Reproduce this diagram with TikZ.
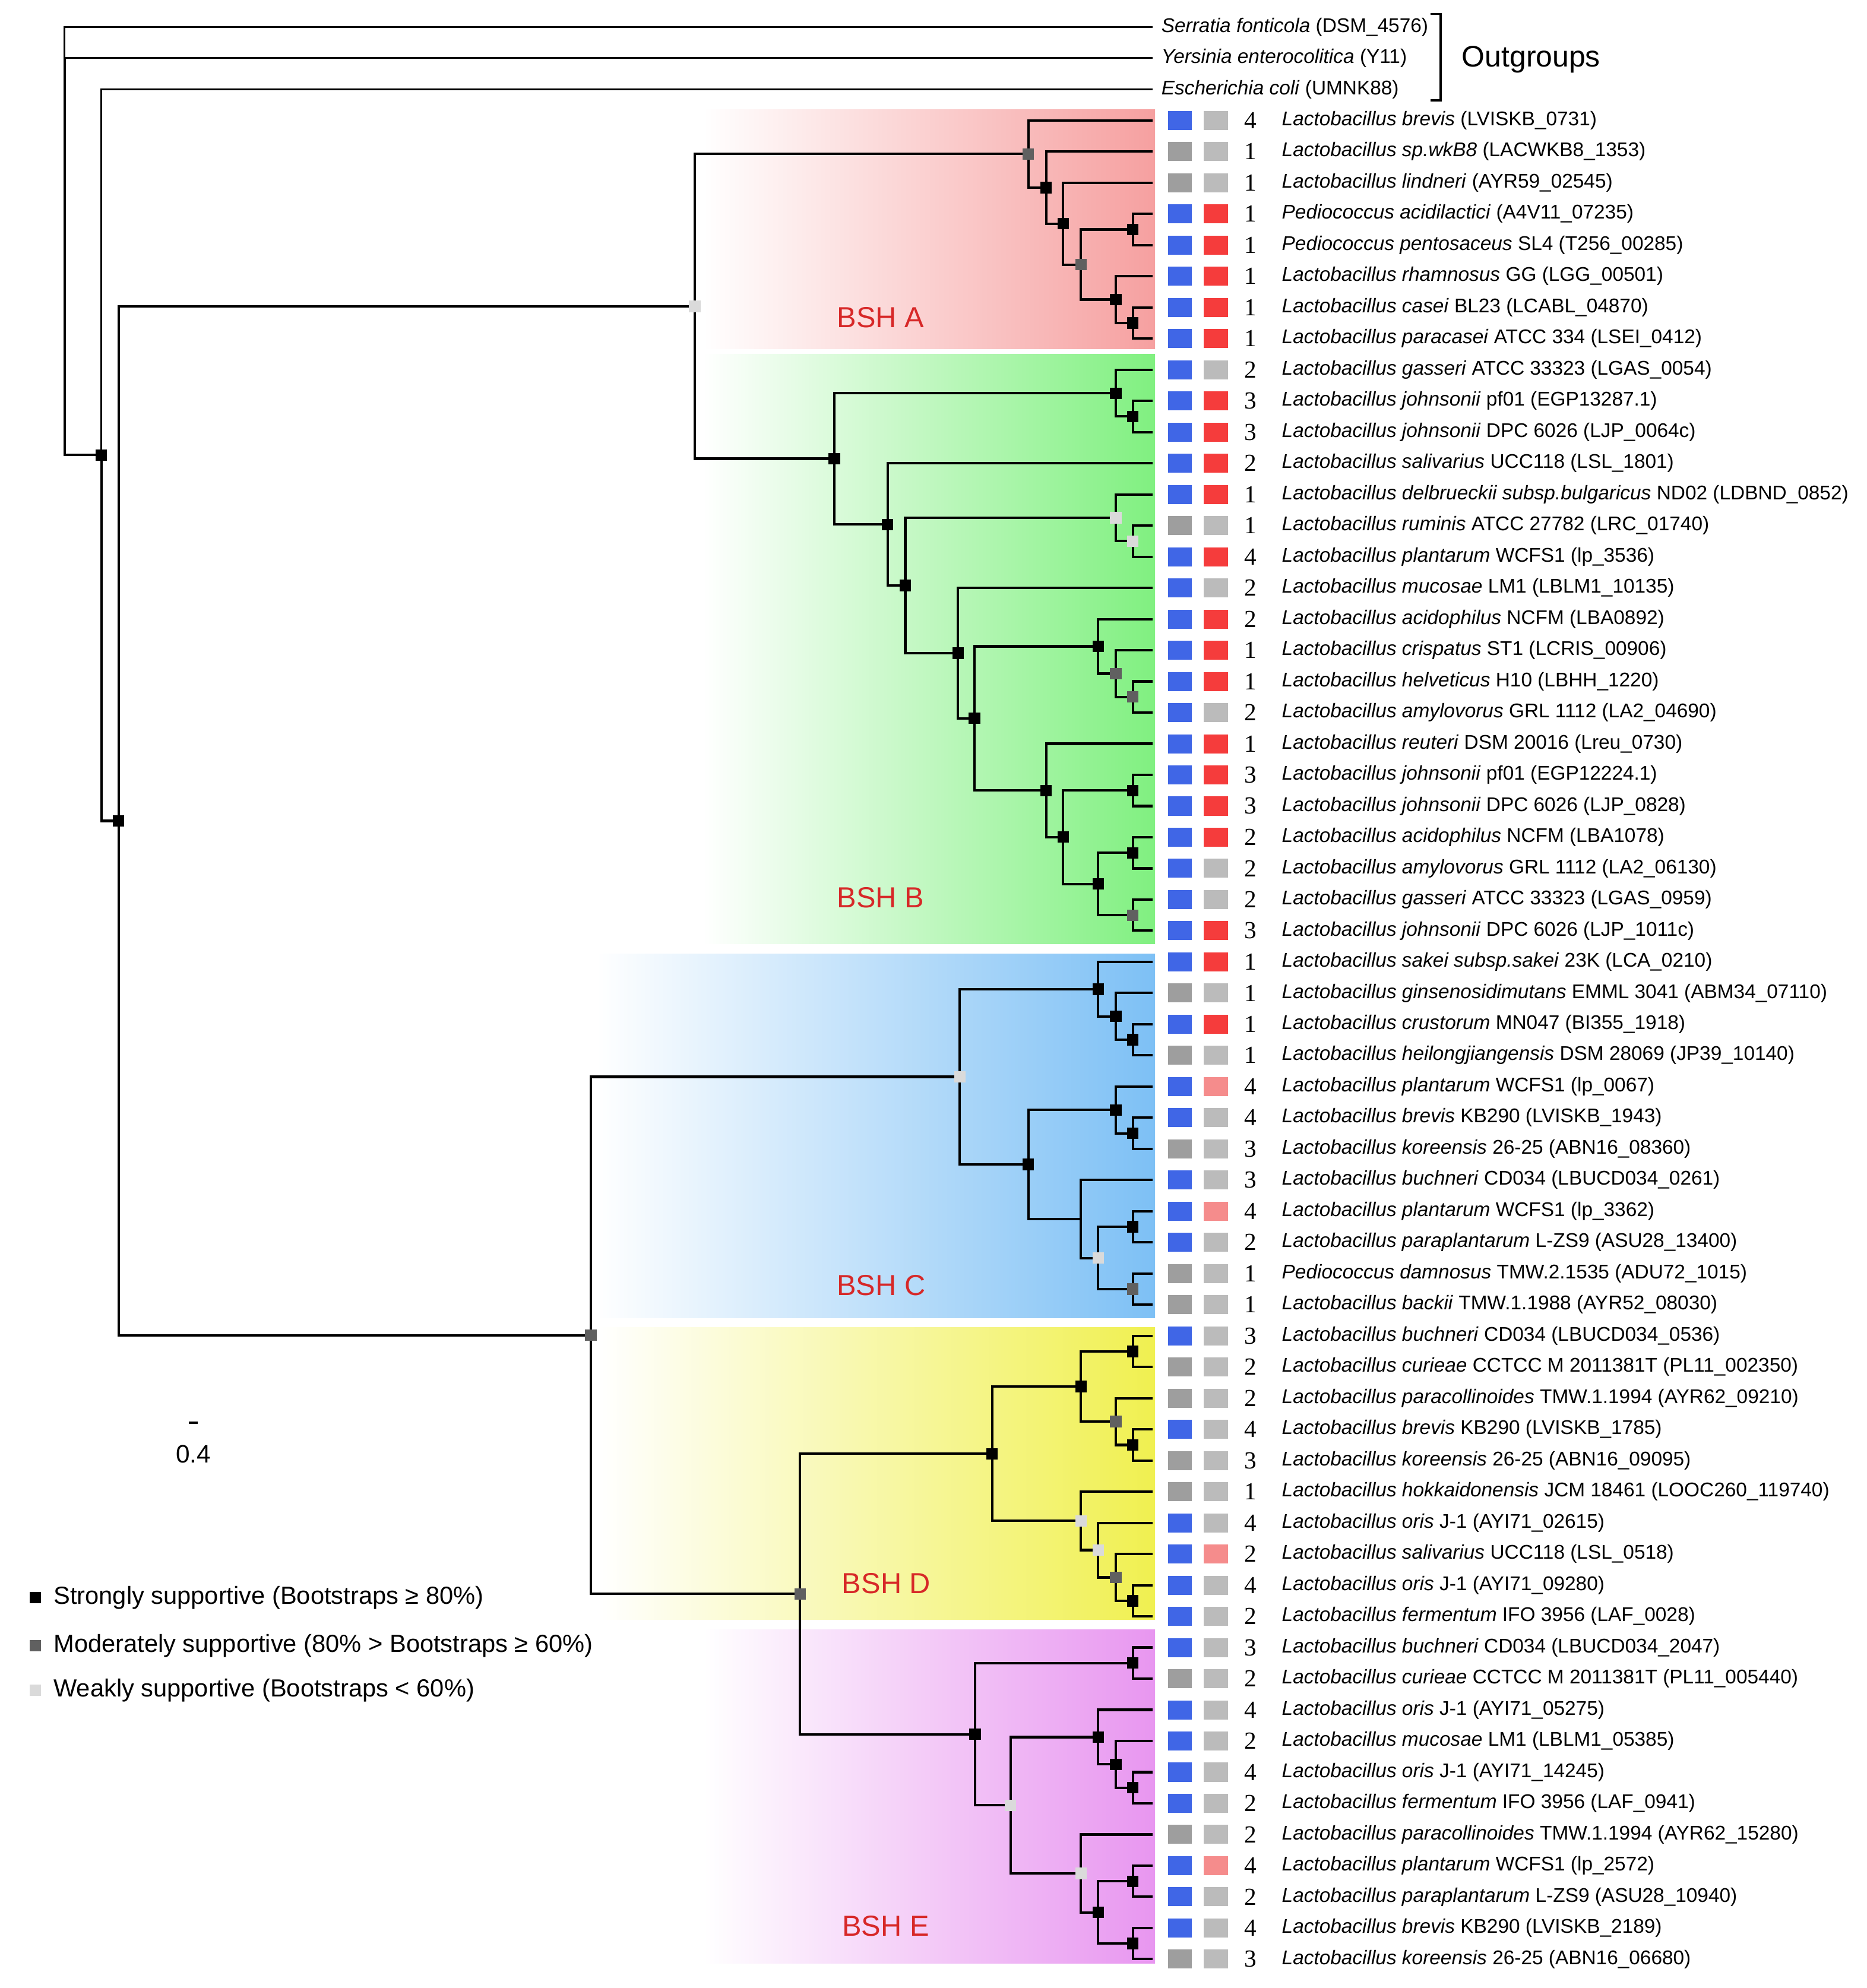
\documentclass[tikz,border=0pt]{standalone}
\usepackage{fontspec}
\setmainfont{Liberation Sans}
\newfontfamily\numfont{Liberation Serif}
\usetikzlibrary{positioning}

\definecolor{bshblue}{RGB}{64,102,230}
\definecolor{bshred}{RGB}{245,60,60}
\definecolor{bshpink}{RGB}{245,140,140}
\definecolor{grya}{RGB}{158,158,158}
\definecolor{gryb}{RGB}{187,187,187}
\definecolor{supdark}{RGB}{96,96,96}
\definecolor{suplight}{RGB}{218,218,218}
\definecolor{bshtext}{RGB}{215,40,40}
\definecolor{bandA}{RGB}{246,160,160}
\definecolor{bandB}{RGB}{128,240,128}
\definecolor{bandC}{RGB}{125,192,245}
\definecolor{bandD}{RGB}{240,240,80}
\definecolor{bandE}{RGB}{232,150,240}

\pgfdeclarelayer{bands}
\pgfdeclarelayer{lines}
\pgfsetlayers{bands,lines,main}

\begin{document}
\begin{tikzpicture}[x=0.2mm,y=-0.2mm,
  every node/.style={inner sep=0pt,outer sep=0pt},
  strongsup/.style={rectangle,fill=black,minimum size=1.8mm},
  modsup/.style={rectangle,fill=supdark,minimum size=1.8mm},
  weaksup/.style={rectangle,fill=suplight,minimum size=1.8mm},
  branch/.style={line width=1.1pt},
  ogbranch/.style={line width=0.8pt},
  colsq/.style={rectangle,minimum width=3.8mm,minimum height=3mm},
  leaflab/.style={anchor=west,font=\fontsize{8.9}{10}\selectfont},
  numlab/.style={font=\numfont\fontsize{11}{12}\selectfont},
  cladelab/.style={font=\fontsize{13}{15}\selectfont,text=bshtext},
  legendlab/.style={anchor=west,font=\fontsize{11.1}{13}\selectfont}]
  \useasboundingbox (0,0) rectangle (1472,1568);

  % coloured clade bands
  \begin{pgfonlayer}{bands}
    \shade[left color=white,right color=bandA] (555,86.5) rectangle (911,275);
    \shade[left color=white,right color=bandB] (555,279.5) rectangle (911,744.5);
    \shade[left color=white,right color=bandC] (470,752.5) rectangle (911,1039.5);
    \shade[left color=white,right color=bandD] (472,1047) rectangle (911,1277.5);
    \shade[left color=white,right color=bandE] (555,1285.5) rectangle (911,1548.5);
  \end{pgfonlayer}

  % tips
  \coordinate (og1) at (909,21.26);
  \coordinate (og2) at (909,45.84);
  \coordinate (og3) at (909,70.42);
  \foreach \i in {1,...,60}
    \coordinate (t\i) at (909,{95+(\i-1)*24.58});

  % backbone
  \coordinate (root) at (51,45.84);
  \node[strongsup] (n2) at (80,358.9) {};
  \node[strongsup] (n3) at (93.5,647.5) {};
  \node[weaksup] (ab) at (548,241.7) {};
  \node[modsup] (cde) at (466,1053.2) {};
  \node[modsup] (de) at (631,1257.2) {};

  % BSH A
  \node[modsup] (a1) at (811,121.5) {};
  \node[strongsup] (a2) at (825,148.0) {};
  \node[strongsup] (a3) at (838.5,176.4) {};
  \node[modsup] (a4) at (852.5,208.7) {};
  \node[strongsup] (a5) at (893.5,181.0) {};
  \node[strongsup] (a6) at (880,236.3) {};
  \node[strongsup] (a7) at (893.5,254.8) {};

  % BSH B
  \node[strongsup] (b1) at (658,361.8) {};
  \node[strongsup] (b2) at (880,310.1) {};
  \node[strongsup] (b3) at (893.5,328.5) {};
  \node[strongsup] (b4) at (700,413.6) {};
  \node[strongsup] (b5) at (714,461.8) {};
  \node[weaksup] (b6) at (880,408.4) {};
  \node[weaksup] (b7) at (893.5,426.8) {};
  \node[strongsup] (b8) at (755.5,515.2) {};
  \node[strongsup] (b9) at (768.5,566.6) {};
  \node[strongsup] (b10) at (866,509.8) {};
  \node[modsup] (b11) at (880,531.3) {};
  \node[modsup] (b12) at (893.5,549.7) {};
  \node[strongsup] (b13) at (825,623.5) {};
  \node[strongsup] (b14) at (838.5,660.3) {};
  \node[strongsup] (b15) at (893.5,623.5) {};
  \node[strongsup] (b16) at (866,697.2) {};
  \node[strongsup] (b17) at (893.5,672.6) {};
  \node[modsup] (b18) at (893.5,721.8) {};

  % BSH C
  \node[weaksup] (c1) at (757,849.3) {};
  \node[strongsup] (c2) at (866,780.2) {};
  \node[strongsup] (c3) at (880,801.7) {};
  \node[strongsup] (c4) at (893.5,820.1) {};
  \node[strongsup] (c5) at (811,918.4) {};
  \node[strongsup] (c6) at (880,875.4) {};
  \node[strongsup] (c7) at (893.5,893.9) {};
  \coordinate (c8) at (852.5,961.5);
  \node[weaksup] (c9) at (866,992.2) {};
  \node[strongsup] (c10) at (893.5,967.6) {};
  \node[modsup] (c11) at (893.5,1016.8) {};

  % BSH D
  \node[strongsup] (d1) at (782.5,1146.6) {};
  \node[strongsup] (d2) at (852.5,1093.6) {};
  \node[strongsup] (d3) at (893.5,1065.9) {};
  \node[modsup] (d4) at (880,1121.2) {};
  \node[strongsup] (d5) at (893.5,1139.7) {};
  \node[weaksup] (d6) at (852.5,1199.6) {};
  \node[weaksup] (d7) at (866,1222.6) {};
  \node[modsup] (d8) at (880,1244.1) {};
  \node[strongsup] (d9) at (893.5,1262.6) {};

  % BSH E
  \node[strongsup] (e1) at (769,1367.8) {};
  \node[strongsup] (e2) at (893.5,1311.7) {};
  \node[weaksup] (e3) at (797,1423.9) {};
  \node[strongsup] (e4) at (866,1370.1) {};
  \node[strongsup] (e5) at (880,1391.6) {};
  \node[strongsup] (e6) at (893.5,1410.0) {};
  \node[weaksup] (e7) at (852.5,1477.6) {};
  \node[strongsup] (e8) at (866,1508.4) {};
  \node[strongsup] (e9) at (893.5,1483.8) {};
  \node[strongsup] (e10) at (893.5,1532.9) {};

  \begin{pgfonlayer}{lines}
    \draw[ogbranch] (root) |- (og1) (root) |- (og2) (n2) |- (og3);
    \begin{scope}[branch]
      \draw (root) |- (n2);
      \draw (n2) |- (n3);
      \draw (n3) |- (ab) (n3) |- (cde);
      \draw (ab) |- (a1) (ab) |- (b1);
      \draw (cde) |- (c1) (cde) |- (de);
      \draw (de) |- (d1) (de) |- (e1);
      % A
      \draw (a1) |- (t1) (a1) |- (a2);
      \draw (a2) |- (t2) (a2) |- (a3);
      \draw (a3) |- (t3) (a3) |- (a4);
      \draw (a4) |- (a5) (a4) |- (a6);
      \draw (a5) |- (t4) (a5) |- (t5);
      \draw (a6) |- (t6) (a6) |- (a7);
      \draw (a7) |- (t7) (a7) |- (t8);
      % B
      \draw (b1) |- (b2) (b1) |- (b4);
      \draw (b2) |- (t9) (b2) |- (b3);
      \draw (b3) |- (t10) (b3) |- (t11);
      \draw (b4) |- (t12) (b4) |- (b5);
      \draw (b5) |- (b6) (b5) |- (b8);
      \draw (b6) |- (t13) (b6) |- (b7);
      \draw (b7) |- (t14) (b7) |- (t15);
      \draw (b8) |- (t16) (b8) |- (b9);
      \draw (b9) |- (b10) (b9) |- (b13);
      \draw (b10) |- (t17) (b10) |- (b11);
      \draw (b11) |- (t18) (b11) |- (b12);
      \draw (b12) |- (t19) (b12) |- (t20);
      \draw (b13) |- (t21) (b13) |- (b14);
      \draw (b14) |- (b15) (b14) |- (b16);
      \draw (b15) |- (t22) (b15) |- (t23);
      \draw (b16) |- (b17) (b16) |- (b18);
      \draw (b17) |- (t24) (b17) |- (t25);
      \draw (b18) |- (t26) (b18) |- (t27);
      % C
      \draw (c1) |- (c2) (c1) |- (c5);
      \draw (c2) |- (t28) (c2) |- (c3);
      \draw (c3) |- (t29) (c3) |- (c4);
      \draw (c4) |- (t30) (c4) |- (t31);
      \draw (c5) |- (c6) (c5) |- (c8);
      \draw (c6) |- (t32) (c6) |- (c7);
      \draw (c7) |- (t33) (c7) |- (t34);
      \draw (c8) |- (t35) (c8) |- (c9);
      \draw (c9) |- (c10) (c9) |- (c11);
      \draw (c10) |- (t36) (c10) |- (t37);
      \draw (c11) |- (t38) (c11) |- (t39);
      % D
      \draw (d1) |- (d2) (d1) |- (d6);
      \draw (d2) |- (d3) (d2) |- (d4);
      \draw (d3) |- (t40) (d3) |- (t41);
      \draw (d4) |- (t42) (d4) |- (d5);
      \draw (d5) |- (t43) (d5) |- (t44);
      \draw (d6) |- (t45) (d6) |- (d7);
      \draw (d7) |- (t46) (d7) |- (d8);
      \draw (d8) |- (t47) (d8) |- (d9);
      \draw (d9) |- (t48) (d9) |- (t49);
      % E
      \draw (e1) |- (e2) (e1) |- (e3);
      \draw (e2) |- (t50) (e2) |- (t51);
      \draw (e3) |- (e4) (e3) |- (e7);
      \draw (e4) |- (t52) (e4) |- (e5);
      \draw (e5) |- (t53) (e5) |- (e6);
      \draw (e6) |- (t54) (e6) |- (t55);
      \draw (e7) |- (t56) (e7) |- (e8);
      \draw (e8) |- (e9) (e8) |- (e10);
      \draw (e9) |- (t57) (e9) |- (t58);
      \draw (e10) |- (t59) (e10) |- (t60);
    \end{scope}
  \end{pgfonlayer}

  % clade names
  \node[cladelab] (bsha) at (694.5,250.5) {BSH A};
  \node[cladelab] (bshb) at (694.5,708) {BSH B};
  \node[cladelab] (bshc) at (695,1013.8) {BSH C};
  \node[cladelab] (bshd) at (699,1249) {BSH D};
  \node[cladelab] (bshe) at (698.5,1519) {BSH E};

  % outgroups
  \node[leaflab] (ogl1) at (916,21.26) {\textit{Serratia fonticola} (DSM\_4576)};
  \node[leaflab] (ogl2) at (916,45.84) {\textit{Yersinia enterocolitica} (Y11)};
  \node[leaflab] (ogl3) at (916,70.42) {\textit{Escherichia coli} (UMNK88)};
  \draw[line width=1pt] (1128,11) -- (1136,11) -- (1136,79) -- (1128,79);
  \node[anchor=west,font=\fontsize{13.3}{15}\selectfont] (ogname) at (1153,46.8) {Outgroups};

  % leaves
  \foreach \i/\ca/\cb/\nr/\spname/\strain in {
    1/bshblue/gryb/4/Lactobacillus brevis/(LVISKB\_0731),
    2/grya/gryb/1/Lactobacillus sp.wkB8/(LACWKB8\_1353),
    3/grya/gryb/1/Lactobacillus lindneri/(AYR59\_02545),
    4/bshblue/bshred/1/Pediococcus acidilactici/(A4V11\_07235),
    5/bshblue/bshred/1/Pediococcus pentosaceus/SL4 (T256\_00285),
    6/bshblue/bshred/1/Lactobacillus rhamnosus/GG (LGG\_00501),
    7/bshblue/bshred/1/Lactobacillus casei/BL23 (LCABL\_04870),
    8/bshblue/bshred/1/Lactobacillus paracasei/ATCC 334 (LSEI\_0412),
    9/bshblue/gryb/2/Lactobacillus gasseri/ATCC 33323 (LGAS\_0054),
    10/bshblue/bshred/3/Lactobacillus johnsonii/pf01 (EGP13287.1),
    11/bshblue/bshred/3/Lactobacillus johnsonii/DPC 6026 (LJP\_0064c),
    12/bshblue/bshred/2/Lactobacillus salivarius/UCC118 (LSL\_1801),
    13/bshblue/bshred/1/Lactobacillus delbrueckii subsp.bulgaricus/ND02 (LDBND\_0852),
    14/grya/gryb/1/Lactobacillus ruminis/ATCC 27782 (LRC\_01740),
    15/bshblue/bshred/4/Lactobacillus plantarum/WCFS1 (lp\_3536),
    16/bshblue/gryb/2/Lactobacillus mucosae/LM1 (LBLM1\_10135),
    17/bshblue/bshred/2/Lactobacillus acidophilus/NCFM (LBA0892),
    18/bshblue/bshred/1/Lactobacillus crispatus/ST1 (LCRIS\_00906),
    19/bshblue/bshred/1/Lactobacillus helveticus/H10 (LBHH\_1220),
    20/bshblue/gryb/2/Lactobacillus amylovorus/GRL 1112 (LA2\_04690),
    21/bshblue/bshred/1/Lactobacillus reuteri/DSM 20016 (Lreu\_0730),
    22/bshblue/bshred/3/Lactobacillus johnsonii/pf01 (EGP12224.1),
    23/bshblue/bshred/3/Lactobacillus johnsonii/DPC 6026 (LJP\_0828),
    24/bshblue/bshred/2/Lactobacillus acidophilus/NCFM (LBA1078),
    25/bshblue/gryb/2/Lactobacillus amylovorus/GRL 1112 (LA2\_06130),
    26/bshblue/gryb/2/Lactobacillus gasseri/ATCC 33323 (LGAS\_0959),
    27/bshblue/bshred/3/Lactobacillus johnsonii/DPC 6026 (LJP\_1011c),
    28/bshblue/bshred/1/Lactobacillus sakei subsp.sakei/23K (LCA\_0210),
    29/grya/gryb/1/Lactobacillus ginsenosidimutans/EMML 3041 (ABM34\_07110),
    30/bshblue/bshred/1/Lactobacillus crustorum/MN047 (BI355\_1918),
    31/grya/gryb/1/Lactobacillus heilongjiangensis/DSM 28069 (JP39\_10140),
    32/bshblue/bshpink/4/Lactobacillus plantarum/WCFS1 (lp\_0067),
    33/bshblue/gryb/4/Lactobacillus brevis/KB290 (LVISKB\_1943),
    34/grya/gryb/3/Lactobacillus koreensis/26-25 (ABN16\_08360),
    35/bshblue/gryb/3/Lactobacillus buchneri/CD034 (LBUCD034\_0261),
    36/bshblue/bshpink/4/Lactobacillus plantarum/WCFS1 (lp\_3362),
    37/bshblue/gryb/2/Lactobacillus paraplantarum/L-ZS9 (ASU28\_13400),
    38/grya/gryb/1/Pediococcus damnosus/TMW.2.1535 (ADU72\_1015),
    39/grya/gryb/1/Lactobacillus backii/TMW.1.1988 (AYR52\_08030),
    40/bshblue/gryb/3/Lactobacillus buchneri/CD034 (LBUCD034\_0536),
    41/grya/gryb/2/Lactobacillus curieae/CCTCC M 2011381T (PL11\_002350),
    42/grya/gryb/2/Lactobacillus paracollinoides/TMW.1.1994 (AYR62\_09210),
    43/bshblue/gryb/4/Lactobacillus brevis/KB290 (LVISKB\_1785),
    44/grya/gryb/3/Lactobacillus koreensis/26-25 (ABN16\_09095),
    45/grya/gryb/1/Lactobacillus hokkaidonensis/JCM 18461 (LOOC260\_119740),
    46/bshblue/gryb/4/Lactobacillus oris/J-1 (AYI71\_02615),
    47/bshblue/bshpink/2/Lactobacillus salivarius/UCC118 (LSL\_0518),
    48/bshblue/gryb/4/Lactobacillus oris/J-1 (AYI71\_09280),
    49/bshblue/gryb/2/Lactobacillus fermentum/IFO 3956 (LAF\_0028),
    50/bshblue/gryb/3/Lactobacillus buchneri/CD034 (LBUCD034\_2047),
    51/grya/gryb/2/Lactobacillus curieae/CCTCC M 2011381T (PL11\_005440),
    52/bshblue/gryb/4/Lactobacillus oris/J-1 (AYI71\_05275),
    53/bshblue/gryb/2/Lactobacillus mucosae/LM1 (LBLM1\_05385),
    54/bshblue/gryb/4/Lactobacillus oris/J-1 (AYI71\_14245),
    55/bshblue/gryb/2/Lactobacillus fermentum/IFO 3956 (LAF\_0941),
    56/grya/gryb/2/Lactobacillus paracollinoides/TMW.1.1994 (AYR62\_15280),
    57/bshblue/bshpink/4/Lactobacillus plantarum/WCFS1 (lp\_2572),
    58/bshblue/gryb/2/Lactobacillus paraplantarum/L-ZS9 (ASU28\_10940),
    59/bshblue/gryb/4/Lactobacillus brevis/KB290 (LVISKB\_2189),
    60/grya/gryb/3/Lactobacillus koreensis/26-25 (ABN16\_06680)}
  {
    \node[colsq,fill=\ca] (p\i) at (930.5,{95+(\i-1)*24.58}) {};
    \node[colsq,fill=\cb,right=1.9mm of p\i] (q\i) {};
    \node[numlab] (nr\i) at (986,{95+(\i-1)*24.58}) {\nr};
    \node[leaflab] (lab\i) at (1011,{95+(\i-1)*24.58}) {\textit{\spname} \strain};
  }

  % scale bar
  \coordinate (sb1) at (149,1122);
  \coordinate (sb2) at (156,1122);
  \draw[line width=1pt] (sb1) -- (sb2);
  \node[font=\fontsize{11.3}{13}\selectfont] (sblab) at (152.5,1147) {0.4};

  % legend
  \node[strongsup] (k1) at (27.8,1260) {};
  \node[modsup] (k2) at (27.8,1298) {};
  \node[weaksup] (k3) at (27.8,1333) {};
  \node[legendlab,right=2mm of k1] (kl1) {Strongly supportive (Bootstraps ≥ 80\%)};
  \node[legendlab,right=2mm of k2] (kl2) {Moderately supportive (80\% > Bootstraps ≥ 60\%)};
  \node[legendlab,right=2mm of k3] (kl3) {Weakly supportive (Bootstraps < 60\%)};
\end{tikzpicture}
\end{document}
